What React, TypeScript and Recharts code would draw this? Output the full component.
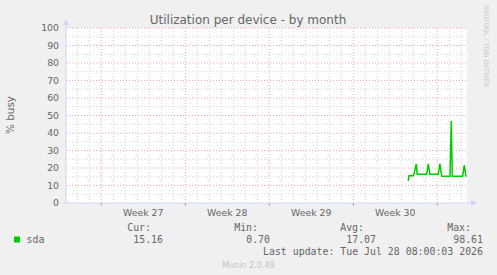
import { LineChart, Line, XAxis, YAxis, CartesianGrid, ReferenceLine } from "recharts";

// time in days since the start of Week 27
const days = [25.58, 25.64, 26.0, 26.06, 26.25, 26.33, 27.12, 27.25, 27.39, 28.08, 28.22, 28.37, 29.06, 29.17, 29.25, 30.12, 30.25, 30.39, 30.44];
const busy = [12.7, 15.6, 15.6, 16.4, 22.3, 16.4, 16.4, 22.3, 16.4, 16.4, 22.3, 15.3, 15.3, 46.9, 15.3, 15.3, 21.7, 15.4, 15.2];

const weekStarts = [0, 7, 14, 21, 28];
const weekCenters = [3.5, 10.5, 17.5, 24.5];
const weekLabels = ["Week 27", "Week 28", "Week 29", "Week 30"];
const dayTicks = [-2, -1, 1, 2, 3, 4, 5, 6, 8, 9, 10, 11, 12, 13, 15, 16, 17, 18, 19, 20, 22, 23, 24, 25, 26, 27, 29, 30];
const yMajor = [0, 10, 20, 30, 40, 50, 60, 70, 80, 90, 100];
const yMinor = [5, 15, 25, 35, 45, 55, 65, 75, 85, 95];

const statNames = ["Cur:", "Min:", "Avg:", "Max:"];
const statValues = ["15.16", "0.70", "17.07", "98.61"];
const statRight = [163, 270, 376, 483];

const data = days.map((d, i) => ({ day: d, busy: busy[i] }));

const SANS = "DejaVu Sans";
const MONO = "DejaVu Sans Mono";
const FONT = "#666666";
const AXIS = "#cfd6f8";
const MGRID = "#f2a6a6";
const GRID = "#d2d2d2";
const DOMAIN = [-2.94, 30.48];

const App = () => {
  return (
    <div style={{ position: "fixed", left: 0, top: 0, width: 497, height: 275, background: "#f0f0f0" }}>
      <LineChart width={497} height={275} data={data} margin={{ top: 28, right: 30, left: 0, bottom: 42 }}>
        <XAxis
          xAxisId="main"
          dataKey="day"
          type="number"
          domain={DOMAIN}
          ticks={weekCenters}
          allowDataOverflow
          tickFormatter={(v: number) => weekLabels[weekCenters.indexOf(v)]}
          tick={{ fill: FONT, fontSize: 9.33, fontFamily: SANS }}
          tickLine={false}
          tickSize={4}
          tickMargin={2}
          axisLine={{ stroke: AXIS }}
          height={30}
        />
        <YAxis
          yAxisId="main"
          type="number"
          domain={[0, 100]}
          ticks={yMajor}
          width={66}
          tick={{ fill: FONT, fontSize: 9.33, fontFamily: SANS }}
          tickLine={false}
          tickSize={5}
          tickMargin={2}
          axisLine={{ stroke: AXIS }}
        />
        <CartesianGrid xAxisId="main" yAxisId="main" fill="#ffffff" horizontal={false} vertical={false} />
        {dayTicks.map((d) => (
          <ReferenceLine key={"d" + d} x={d} xAxisId="main" yAxisId="main" stroke={GRID} strokeDasharray="1 2" />
        ))}
        {yMinor.map((v) => (
          <ReferenceLine key={"m" + v} y={v} xAxisId="main" yAxisId="main" stroke={GRID} strokeDasharray="1 2" />
        ))}
        {yMajor.slice(1).map((v) => (
          <ReferenceLine key={"M" + v} y={v} xAxisId="main" yAxisId="main" stroke={MGRID} strokeDasharray="1 2" />
        ))}
        {weekStarts.map((w) => (
          <ReferenceLine key={"w" + w} x={w} xAxisId="main" yAxisId="main" stroke={MGRID} strokeDasharray="1 2" />
        ))}
        {weekStarts.map((w) => (
          <ReferenceLine
            key={"t" + w}
            xAxisId="main"
            yAxisId="main"
            segment={[{ x: w, y: 0 }, { x: w, y: -1.5 }]}
            ifOverflow="visible"
            stroke="#e07070"
          />
        ))}
        <Line
          xAxisId="main"
          yAxisId="main"
          type="linear"
          dataKey="busy"
          stroke="#00cc00"
          strokeWidth={1.5}
          dot={false}
          isAnimationActive={false}
        />
      </LineChart>
      <svg width={497} height={275} style={{ position: "absolute", left: 0, top: 0, pointerEvents: "none" }}>
        <text x={248} y={23.5} textAnchor="middle" fontFamily={SANS} fontSize={12} fill={FONT}>
          Utilization per device - by month
        </text>
        <text
          x={14}
          y={115}
          transform="rotate(-90 14 115)"
          textAnchor="middle"
          fontFamily={SANS}
          fontSize={10.4}
          fill={FONT}
        >
          % busy
        </text>
        <text
          x={484}
          y={5}
          transform="rotate(90 484 5)"
          fontFamily={SANS}
          fontSize={6.4}
          fill="#c8c8c8"
        >
          RRDTOOL / TOBI OETIKER
        </text>
        {/* axis arrows */}
        <line x1={66} y1={28} x2={66} y2={24} stroke={AXIS} />
        <polygon points="63,25 69,25 66,19" fill={AXIS} />
        <line x1={63} y1={203} x2={66} y2={203} stroke={AXIS} />
        <line x1={467} y1={203} x2={471} y2={203} stroke={AXIS} />
        <polygon points="471,200 471,206 477,203" fill={AXIS} />
        {/* legend */}
        {statNames.map((s, i) => (
          <text key={s} x={statRight[i] - 12} y={231} textAnchor="end" fontFamily={MONO} fontSize={9.9} fill={FONT}>
            {s}
          </text>
        ))}
        <rect x={14} y={236.5} width={6} height={6} fill="#00cc00" />
        <text x={26.5} y={242.5} fontFamily={MONO} fontSize={9.9} fill={FONT}>
          sda
        </text>
        {statValues.map((v, i) => (
          <text key={i} x={statRight[i]} y={242.5} textAnchor="end" fontFamily={MONO} fontSize={9.9} fill={FONT}>
            {v}
          </text>
        ))}
        <text x={483} y={255} textAnchor="end" fontFamily={MONO} fontSize={9.9} fill={FONT}>
          Last update: Tue Jul 28 08:00:03 2026
        </text>
        <text x={248.5} y={267.5} textAnchor="middle" fontFamily={SANS} fontSize={8} fill="#c4c4c4">
          Munin 2.0.49
        </text>
      </svg>
    </div>
  );
};

export default App;
